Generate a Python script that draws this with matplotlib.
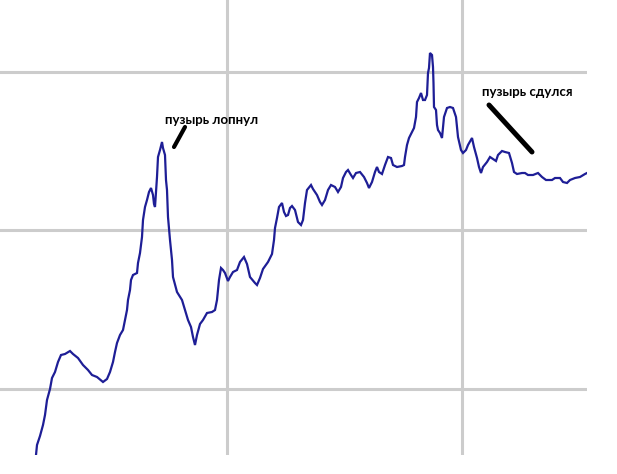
import matplotlib
matplotlib.use("Agg")
import matplotlib.pyplot as plt

# time index (months from start) and index level
t = [0, 1, 4, 7, 9, 11, 14, 16, 19, 22, 25, 29, 34, 37, 42, 47, 52, 56, 61, 67,
     71, 74, 77, 79, 81, 84, 87, 89, 91, 92, 94, 95, 97, 101, 102, 104, 106, 107, 109, 111,
     113, 115, 117, 118, 119, 121, 122, 124, 126, 127, 129, 130, 131, 132, 134, 136, 137, 141, 146, 149,
     152, 155, 157, 159, 161, 164, 167, 171, 176, 179, 181, 183, 185, 187, 189, 192, 194, 197, 201, 204,
     208, 211, 214, 219, 221, 224, 227, 232, 236, 238, 239, 241, 243, 246, 248, 250, 252, 254, 256, 259,
     262, 265, 267, 269, 271, 275, 277, 281, 284, 286, 289, 292, 295, 299, 302, 305, 307, 310, 312, 315,
     317, 320, 324, 328, 331, 333, 336, 339, 341, 343, 346, 349, 352, 355, 357, 361, 366, 368, 369, 371,
     373, 376, 378, 380, 381, 383, 385, 387, 389, 391, 392, 393, 394, 396, 397, 397.5, 398, 400, 401, 402,
     404, 406, 407, 408, 411, 414, 417, 420, 422, 425, 427, 430, 432, 436, 438, 441, 443, 445, 447, 451,
     454, 457, 460, 462, 466, 469, 473, 476, 478, 481, 486, 489, 492, 497, 502, 506, 510, 516, 519, 524,
     527, 531, 534, 539, 544, 549, 551]
level = [0, 10, 19, 30, 40, 55, 66, 77, 83, 93, 100, 101, 104, 101, 97, 90, 85, 80, 78, 73,
         76, 83, 93, 103, 112, 120, 125, 135, 145, 155, 165, 175, 180, 182, 192, 202, 218, 235, 248, 255,
         263, 267, 260, 251, 248, 278, 298, 305, 313, 307, 300, 275, 265, 238, 215, 195, 178, 163, 155, 145,
         135, 128, 118, 110, 120, 131, 135, 142, 143, 145, 155, 175, 187, 185, 182, 174, 178, 183, 185, 193,
         198, 191, 178, 172, 170, 177, 186, 193, 201, 215, 227, 237, 248, 252, 243, 239, 240, 247, 249, 245,
         233, 230, 235, 252, 265, 270, 266, 260, 253, 250, 255, 265, 270, 268, 263, 268, 277, 283, 285, 280,
         277, 282, 283, 278, 272, 267, 273, 283, 288, 283, 281, 290, 298, 297, 290, 288, 289, 290, 298, 310,
         317, 323, 327, 338, 353, 357, 362, 355, 355, 360, 382, 387, 402, 400, 388, 372, 348, 345, 330, 325,
         322, 317, 327, 338, 347, 348, 347, 338, 318, 305, 302, 305, 310, 317, 308, 297, 288, 282, 288, 293,
         298, 296, 294, 300, 304, 303, 302, 292, 283, 281, 282, 282, 280, 280, 282, 278, 275, 275, 277, 277,
         273, 272, 275, 277, 278, 281, 282]

grid_t = [190.5, 425.7]
grid_level = [66, 225, 383]

label_burst = "пузырь лопнул"
label_deflate = "пузырь сдулся"
burst_text_pos = (129, 335)
burst_stroke_t = [149, 138]
burst_stroke_v = [328, 308]
deflate_text_pos = (446, 363)
deflate_stroke_t = [453, 496]
deflate_stroke_v = [350, 303]

W, H = 617, 474
fig = plt.figure(figsize=(W / 100, H / 100), dpi=100)
fig.patch.set_facecolor("white")
ax = fig.add_axes([0, 19 / H, 587 / W, 455 / H])
ax.set_xlim(-36, 551)
ax.set_ylim(0, 455)
for s in ax.spines.values():
    s.set_visible(False)
ax.set_xticks(grid_t)
ax.set_yticks(grid_level)
ax.tick_params(length=0, labelbottom=False, labelleft=False)
ax.grid(True, color="#cccccc", linewidth=2.2)
ax.set_axisbelow(True)

ax.plot(t, level, color="#1e1e96", linewidth=1.6, solid_joinstyle="miter")

ax.plot(burst_stroke_t, burst_stroke_v, color="black", linewidth=3.0,
        solid_capstyle="round")
ax.plot(deflate_stroke_t, deflate_stroke_v, color="black", linewidth=3.6,
        solid_capstyle="round")
ax.text(*burst_text_pos, label_burst, fontsize=9.5, fontweight="bold",
        family=["Lato", "DejaVu Sans"], ha="left", va="center", color="black")
ax.text(*deflate_text_pos, label_deflate, fontsize=9.5, fontweight="bold",
        family=["Lato", "DejaVu Sans"], ha="left", va="center", color="black")

fig.savefig("out.png", dpi=100, facecolor="white")
